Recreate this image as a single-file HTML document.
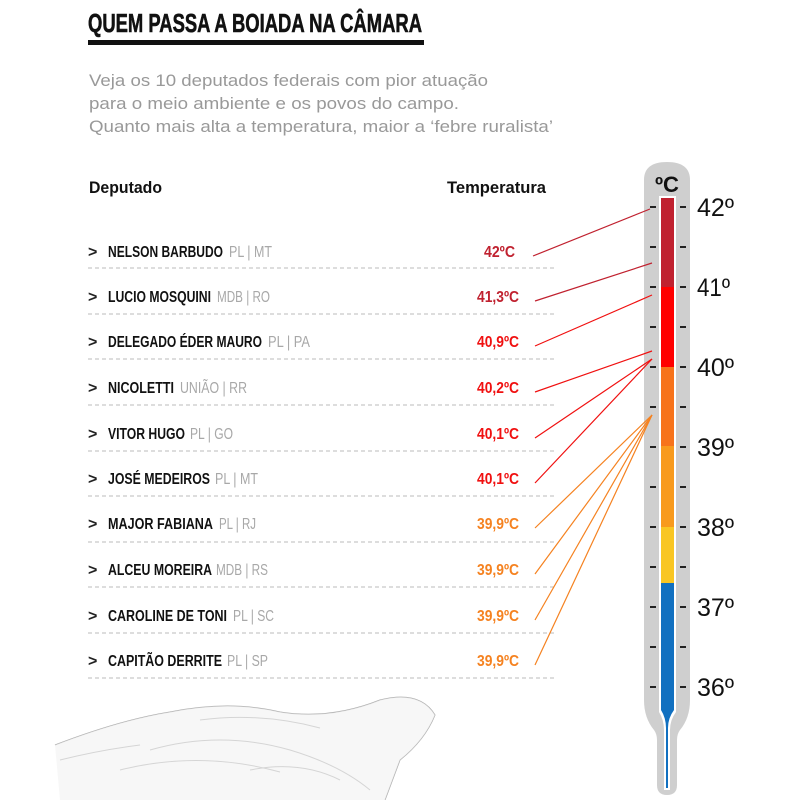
<!DOCTYPE html>
<html><head><meta charset="utf-8"><style>
html,body{margin:0;padding:0;background:#fff;}
svg{display:block;}
text{font-family:"Liberation Sans",sans-serif;}
</style></head><body>
<svg width="793" height="800" viewBox="0 0 793 800" xmlns="http://www.w3.org/2000/svg">
<rect width="793" height="800" fill="#fff"/>
<text x="88" y="32" font-size="26" font-weight="bold" textLength="334" lengthAdjust="spacingAndGlyphs" fill="#111" stroke="#111" stroke-width="0.6">QUEM PASSA A BOIADA NA CÂMARA</text>
<rect x="88" y="40" width="336" height="5" fill="#111"/>
<g font-size="17" fill="#999">
<text x="89" y="86" textLength="399" lengthAdjust="spacingAndGlyphs">Veja os 10 deputados federais com pior atuação</text>
<text x="89" y="109" textLength="370" lengthAdjust="spacingAndGlyphs">para o meio ambiente e os povos do campo.</text>
<text x="89" y="132" textLength="464" lengthAdjust="spacingAndGlyphs">Quanto mais alta a temperatura, maior a ‘febre ruralista’</text>
</g>
<text x="89" y="193" font-size="17" font-weight="bold" textLength="73" lengthAdjust="spacingAndGlyphs" fill="#111">Deputado</text>
<text x="447" y="193" font-size="17" font-weight="bold" textLength="99" lengthAdjust="spacingAndGlyphs" fill="#111">Temperatura</text>

<!-- cow sketch hint -->
<g fill="none" stroke="#aaa" stroke-width="1">
<path d="M55 745 Q120 720 170 712 Q230 700 280 712 Q330 720 380 700 Q420 690 435 715 Q425 740 400 760 L385 800"/>
<path d="M150 750 Q220 730 290 750 Q340 765 370 790"/>
<path d="M120 770 Q200 750 280 772"/>
<path d="M60 760 Q100 750 140 745"/>
<path d="M200 720 Q260 712 320 728"/>
<path d="M250 770 Q300 760 340 780"/>
</g>
<path d="M55 745 Q120 720 170 712 Q230 700 280 712 Q330 720 380 700 Q420 690 435 715 Q425 740 400 760 L385 800 L60 800 Z" fill="#f1f1f1" opacity="0.6"/>

<g stroke="#bbb" stroke-width="1" stroke-dasharray="4,3">
<line x1="88" y1="268" x2="556" y2="268"/>
<line x1="88" y1="314" x2="556" y2="314"/>
<line x1="88" y1="359" x2="556" y2="359"/>
<line x1="88" y1="405" x2="556" y2="405"/>
<line x1="88" y1="451" x2="556" y2="451"/>
<line x1="88" y1="496" x2="556" y2="496"/>
<line x1="88" y1="542" x2="556" y2="542"/>
<line x1="88" y1="587" x2="556" y2="587"/>
<line x1="88" y1="633" x2="556" y2="633"/>
<line x1="88" y1="678" x2="556" y2="678"/>
</g>
<g font-size="16">
<text x="88" y="257" fill="#222" font-weight="bold">&gt;</text>
<text x="88" y="302" fill="#222" font-weight="bold">&gt;</text>
<text x="88" y="347" fill="#222" font-weight="bold">&gt;</text>
<text x="88" y="393" fill="#222" font-weight="bold">&gt;</text>
<text x="88" y="439" fill="#222" font-weight="bold">&gt;</text>
<text x="88" y="484" fill="#222" font-weight="bold">&gt;</text>
<text x="88" y="529" fill="#222" font-weight="bold">&gt;</text>
<text x="88" y="575" fill="#222" font-weight="bold">&gt;</text>
<text x="88" y="621" fill="#222" font-weight="bold">&gt;</text>
<text x="88" y="666" fill="#222" font-weight="bold">&gt;</text>
</g>
<g font-size="16" font-weight="bold" fill="#111">
<text x="108" y="257" textLength="115" lengthAdjust="spacingAndGlyphs">NELSON BARBUDO</text>
<text x="108" y="302" textLength="103" lengthAdjust="spacingAndGlyphs">LUCIO MOSQUINI</text>
<text x="108" y="347" textLength="154" lengthAdjust="spacingAndGlyphs">DELEGADO ÉDER MAURO</text>
<text x="108" y="393" textLength="66" lengthAdjust="spacingAndGlyphs">NICOLETTI</text>
<text x="108" y="439" textLength="77" lengthAdjust="spacingAndGlyphs">VITOR HUGO</text>
<text x="108" y="484" textLength="102" lengthAdjust="spacingAndGlyphs">JOSÉ MEDEIROS</text>
<text x="108" y="529" textLength="105" lengthAdjust="spacingAndGlyphs">MAJOR FABIANA</text>
<text x="108" y="575" textLength="104" lengthAdjust="spacingAndGlyphs">ALCEU MOREIRA</text>
<text x="108" y="621" textLength="119" lengthAdjust="spacingAndGlyphs">CAROLINE DE TONI</text>
<text x="108" y="666" textLength="114" lengthAdjust="spacingAndGlyphs">CAPITÃO DERRITE</text>
</g>
<g font-size="16" fill="#a8a8a8">
<text x="229" y="257" textLength="43" lengthAdjust="spacingAndGlyphs">PL | MT</text>
<text x="217" y="302" textLength="53" lengthAdjust="spacingAndGlyphs">MDB | RO</text>
<text x="268" y="347" textLength="42" lengthAdjust="spacingAndGlyphs">PL | PA</text>
<text x="180" y="393" textLength="67" lengthAdjust="spacingAndGlyphs">UNIÃO | RR</text>
<text x="190" y="439" textLength="43" lengthAdjust="spacingAndGlyphs">PL | GO</text>
<text x="215" y="484" textLength="43" lengthAdjust="spacingAndGlyphs">PL | MT</text>
<text x="219" y="529" textLength="37" lengthAdjust="spacingAndGlyphs">PL | RJ</text>
<text x="216" y="575" textLength="52" lengthAdjust="spacingAndGlyphs">MDB | RS</text>
<text x="233" y="621" textLength="41" lengthAdjust="spacingAndGlyphs">PL | SC</text>
<text x="227" y="666" textLength="41" lengthAdjust="spacingAndGlyphs">PL | SP</text>
</g>
<g font-size="16" font-weight="bold" text-anchor="end">
<text x="515" y="257" fill="#c0212f" textLength="31" lengthAdjust="spacingAndGlyphs">42ºC</text>
<text x="519" y="302" fill="#c0212f" textLength="42" lengthAdjust="spacingAndGlyphs">41,3ºC</text>
<text x="519" y="347" fill="#f01010" textLength="42" lengthAdjust="spacingAndGlyphs">40,9ºC</text>
<text x="519" y="393" fill="#f01010" textLength="42" lengthAdjust="spacingAndGlyphs">40,2ºC</text>
<text x="519" y="439" fill="#f01010" textLength="42" lengthAdjust="spacingAndGlyphs">40,1ºC</text>
<text x="519" y="484" fill="#f01010" textLength="42" lengthAdjust="spacingAndGlyphs">40,1ºC</text>
<text x="519" y="529" fill="#f58220" textLength="42" lengthAdjust="spacingAndGlyphs">39,9ºC</text>
<text x="519" y="575" fill="#f58220" textLength="42" lengthAdjust="spacingAndGlyphs">39,9ºC</text>
<text x="519" y="621" fill="#f58220" textLength="42" lengthAdjust="spacingAndGlyphs">39,9ºC</text>
<text x="519" y="666" fill="#f58220" textLength="42" lengthAdjust="spacingAndGlyphs">39,9ºC</text>
</g>

<path d="M644 180 Q644 162 667 162 Q690 162 690 180 L690 700 Q690 718 680 730 Q677 734 677 740 L677 785 Q677 795 667 795 Q657 795 657 785 L657 740 Q657 734 654 730 Q644 718 644 700 Z" fill="#cfcfcf"/>
<text x="667" y="192" font-size="22" font-weight="bold" text-anchor="middle" fill="#111" textLength="24" lengthAdjust="spacingAndGlyphs">ºC</text>
<rect x="659" y="196" width="17" height="516" fill="#fff"/>
<path d="M659 700 L676 700 L676 712 Q670 720 670 730 L670 790 L664 790 L664 730 Q664 720 659 712 Z" fill="#fff"/>
<rect x="661" y="198" width="13" height="89" fill="#c0212f"/>
<rect x="661" y="287" width="13" height="80" fill="#ff0000"/>
<rect x="661" y="367" width="13" height="79" fill="#f7731b"/>
<rect x="661" y="446" width="13" height="81" fill="#f89a1d"/>
<rect x="661" y="527" width="13" height="56" fill="#f9c623"/>
<path d="M661 583 L674 583 L674 710 Q668 718 668 728 L668 788 L666 788 L666 728 Q666 718 661 710 Z" fill="#1170c0"/>
<g stroke="#222" stroke-width="2">
<line x1="650" y1="207" x2="656" y2="207"/><line x1="680" y1="207" x2="686" y2="207"/>
<line x1="650" y1="247" x2="656" y2="247"/><line x1="680" y1="247" x2="686" y2="247"/>
<line x1="650" y1="287" x2="656" y2="287"/><line x1="680" y1="287" x2="686" y2="287"/>
<line x1="650" y1="327" x2="656" y2="327"/><line x1="680" y1="327" x2="686" y2="327"/>
<line x1="650" y1="367" x2="656" y2="367"/><line x1="680" y1="367" x2="686" y2="367"/>
<line x1="650" y1="407" x2="656" y2="407"/><line x1="680" y1="407" x2="686" y2="407"/>
<line x1="650" y1="447" x2="656" y2="447"/><line x1="680" y1="447" x2="686" y2="447"/>
<line x1="650" y1="487" x2="656" y2="487"/><line x1="680" y1="487" x2="686" y2="487"/>
<line x1="650" y1="527" x2="656" y2="527"/><line x1="680" y1="527" x2="686" y2="527"/>
<line x1="650" y1="567" x2="656" y2="567"/><line x1="680" y1="567" x2="686" y2="567"/>
<line x1="650" y1="607" x2="656" y2="607"/><line x1="680" y1="607" x2="686" y2="607"/>
<line x1="650" y1="647" x2="656" y2="647"/><line x1="680" y1="647" x2="686" y2="647"/>
<line x1="650" y1="687" x2="656" y2="687"/><line x1="680" y1="687" x2="686" y2="687"/>
</g>
<g font-size="25" fill="#111">
<text x="697" y="216" textLength="37" lengthAdjust="spacingAndGlyphs">42º</text>
<text x="697" y="296" textLength="33" lengthAdjust="spacingAndGlyphs">41º</text>
<text x="697" y="376" textLength="37" lengthAdjust="spacingAndGlyphs">40º</text>
<text x="697" y="456" textLength="37" lengthAdjust="spacingAndGlyphs">39º</text>
<text x="697" y="536" textLength="37" lengthAdjust="spacingAndGlyphs">38º</text>
<text x="697" y="616" textLength="37" lengthAdjust="spacingAndGlyphs">37º</text>
<text x="697" y="696" textLength="37" lengthAdjust="spacingAndGlyphs">36º</text>
</g>

<g stroke-width="1.2" fill="none">
<line x1="533" y1="256" x2="650" y2="209" stroke="#c0212f"/>
<line x1="535" y1="301" x2="652" y2="263" stroke="#c0212f"/>
<line x1="535" y1="346" x2="652" y2="295" stroke="#f01010"/>
<line x1="535" y1="392" x2="652" y2="351" stroke="#f01010"/>
<line x1="535" y1="438" x2="652" y2="359" stroke="#f01010"/>
<line x1="535" y1="483" x2="652" y2="359" stroke="#f01010"/>
<line x1="535" y1="528" x2="652" y2="415" stroke="#f58220"/>
<line x1="535" y1="574" x2="652" y2="415" stroke="#f58220"/>
<line x1="535" y1="620" x2="652" y2="415" stroke="#f58220"/>
<line x1="535" y1="665" x2="652" y2="415" stroke="#f58220"/>
</g>
</svg>
</body></html>
